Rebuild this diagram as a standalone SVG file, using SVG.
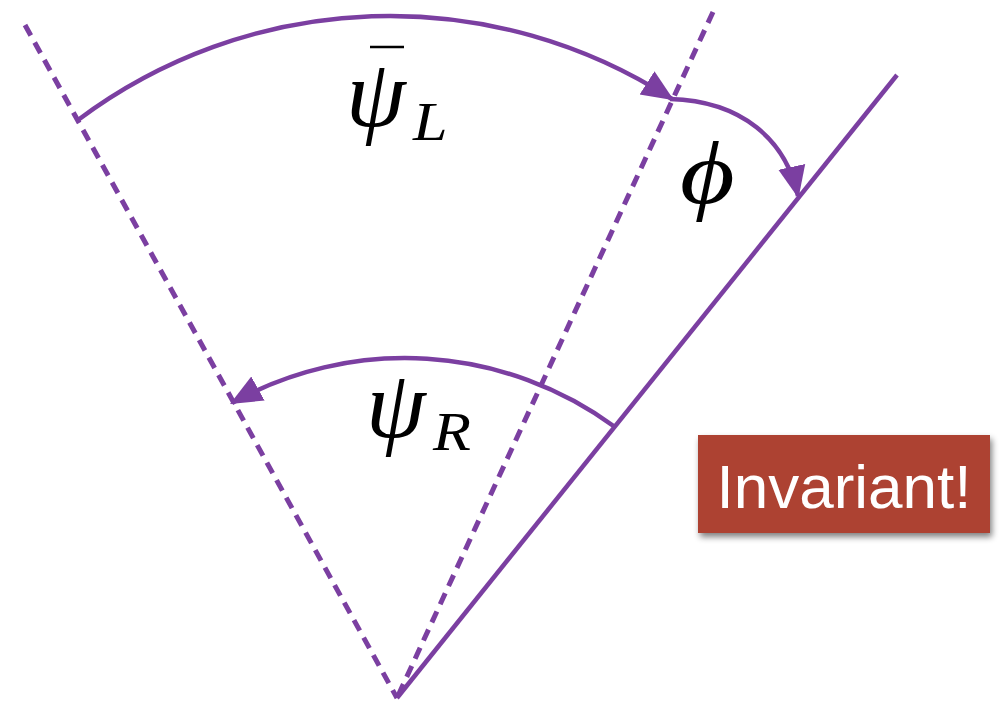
<svg xmlns="http://www.w3.org/2000/svg" width="1006" height="704" viewBox="0 0 1006 704">
<style>
.ray{stroke:#7b3fa1;stroke-width:4.5;fill:none}
.dash{stroke-width:5;stroke-dasharray:12 8}
.arc{stroke:#7b3fa1;stroke-width:4.5;fill:none}
.math{font-family:"Liberation Serif","DejaVu Serif",serif;font-style:italic;fill:#000}
.lbl{font-family:"Liberation Sans",Arial,sans-serif;fill:#fff}
</style>
<defs>
<marker id="ah" markerUnits="userSpaceOnUse" markerWidth="32" markerHeight="32" viewBox="0 0 28 24" refX="26" refY="12" orient="auto">
<path d="M0,0 L28,12 L0,24 Z" fill="#7b3fa1"/>
</marker>
<filter id="sh" x="-10%" y="-10%" width="125%" height="135%">
<feGaussianBlur in="SourceAlpha" stdDeviation="3"/>
<feOffset dx="2" dy="4" result="b"/>
<feComponentTransfer><feFuncA type="linear" slope="0.5"/></feComponentTransfer>
<feMerge><feMergeNode/><feMergeNode in="SourceGraphic"/></feMerge>
</filter>
</defs>
<g id="rays">
<line class="ray dash" x1="25" y1="25" x2="397" y2="698"/>
<line class="ray dash" x1="713" y1="12" x2="397" y2="698"/>
<line class="ray" x1="897" y1="75" x2="397" y2="698"/>
</g>
<g id="connectors">
<path class="arc" d="M78,120 A520,520 0 0 1 672,99" marker-end="url(#ah)"/>
<path class="arc" d="M670,99 C742,101 786,140 798,196" marker-end="url(#ah)"/>
<path class="arc" d="M615,427 A355,355 0 0 0 232,403" marker-end="url(#ah)"/>
</g>
<g id="label-psiL">
<line x1="370" y1="47" x2="404" y2="47" stroke="#000" stroke-width="2.5"/>
<text class="math" x="346" y="126" font-size="96">ψ</text>
<text class="math" transform="translate(413,140) scale(1.15,1)" font-size="54">L</text>
</g>
<g id="label-phi">
<text class="math" transform="translate(680,203) scale(1.2,1)" font-size="88">ϕ</text>
</g>
<g id="label-psiR">
<text class="math" x="366" y="437" font-size="96">ψ</text>
<text class="math" transform="translate(433,450) scale(1.15,1)" font-size="54">R</text>
</g>
<g id="invariant">
<rect x="698" y="435" width="292" height="98" fill="#ad4231" filter="url(#sh)"/>
<text class="lbl" x="844" y="508" font-size="62" text-anchor="middle">Invariant!</text>
</g>
</svg>
